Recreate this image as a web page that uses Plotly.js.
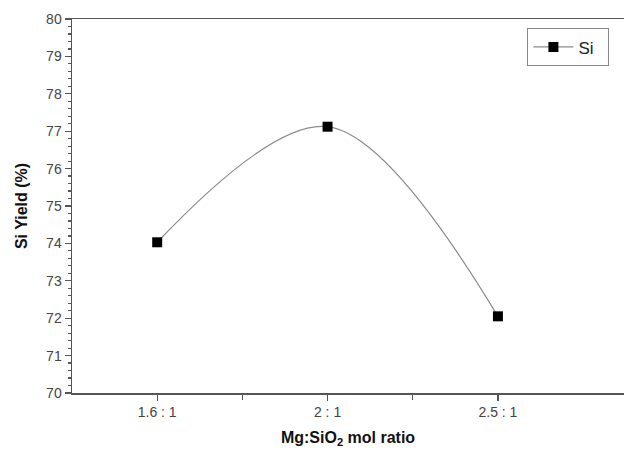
<!DOCTYPE html>
<html>
<head>
<meta charset="utf-8">
<script src="https://cdn.plot.ly/plotly-3.0.1.min.js"></script>
<style>html,body{margin:0;padding:0;background:#fff;}#chart{width:624px;height:451px;}</style>
</head>
<body>
<div id="chart"></div>
<script>
const categories = ["1.6 : 1", "2 : 1", "2.5 : 1"];
const positions = [1, 2, 3];
const siYield = [74.03, 77.12, 72.05];
const seriesName = "Si";

const trace = {
  x: positions,
  y: siYield,
  type: 'scatter',
  mode: 'lines+markers',
  name: seriesName + '\u00a0\u00a0',
  line: {shape: 'spline', smoothing: 1, color: '#8a8a8a', width: 1.2},
  marker: {symbol: 'square', size: 10, color: '#000'}
};

const layout = {
  width: 624, height: 451,
  margin: {l: 72, r: 0, t: 19, b: 58},
  paper_bgcolor: '#fff', plot_bgcolor: '#fff',
  font: {family: 'Liberation Sans, Arial, sans-serif', color: '#444', size: 14},
  showlegend: true,
  legend: {x: 0.825, y: 0.975, xanchor: 'left', yanchor: 'top', bgcolor: '#fff',
           bordercolor: '#888', borderwidth: 1, itemwidth: 40,
           font: {family: 'Liberation Sans, Arial, sans-serif', size: 17, color: '#222'}},
  xaxis: {
    range: [0.5, 3.74], tickvals: positions, ticktext: categories,
    tickfont: {family: 'Liberation Sans, Arial, sans-serif', size: 14, color: '#444'},
    showgrid: false, zeroline: false, showline: true, linecolor: '#555', linewidth: 1.5,
    mirror: true, ticks: 'outside', ticklen: 6, tickcolor: '#555', tickwidth: 1.2,
    minor: {tickvals: [1.5, 2.5], ticks: 'outside', ticklen: 5, tickcolor: '#555', showgrid: false},
    title: {text: '<b>Mg:SiO<sub>2</sub> mol ratio</b>', font: {family: 'Liberation Sans, Arial, sans-serif', size: 16, color: '#111'}, standoff: 12}
  },
  yaxis: {
    range: [70, 80], dtick: 1, tick0: 70,
    tickfont: {family: 'Liberation Sans, Arial, sans-serif', size: 14, color: '#444'},
    showgrid: false, zeroline: false, showline: true, linecolor: '#555', linewidth: 1.5,
    mirror: false, ticks: 'outside', ticklen: 6, tickcolor: '#555', tickwidth: 1.2,
    minor: {dtick: 0.2, ticks: 'outside', ticklen: 3, tickcolor: '#555', showgrid: false},
    title: {text: '<b>Si Yield (%)</b>', font: {family: 'Liberation Sans, Arial, sans-serif', size: 16, color: '#111'}, standoff: 14}
  }
};

Plotly.newPlot('chart', [trace], layout, {displayModeBar: false, staticPlot: true});
</script>
</body>
</html>
